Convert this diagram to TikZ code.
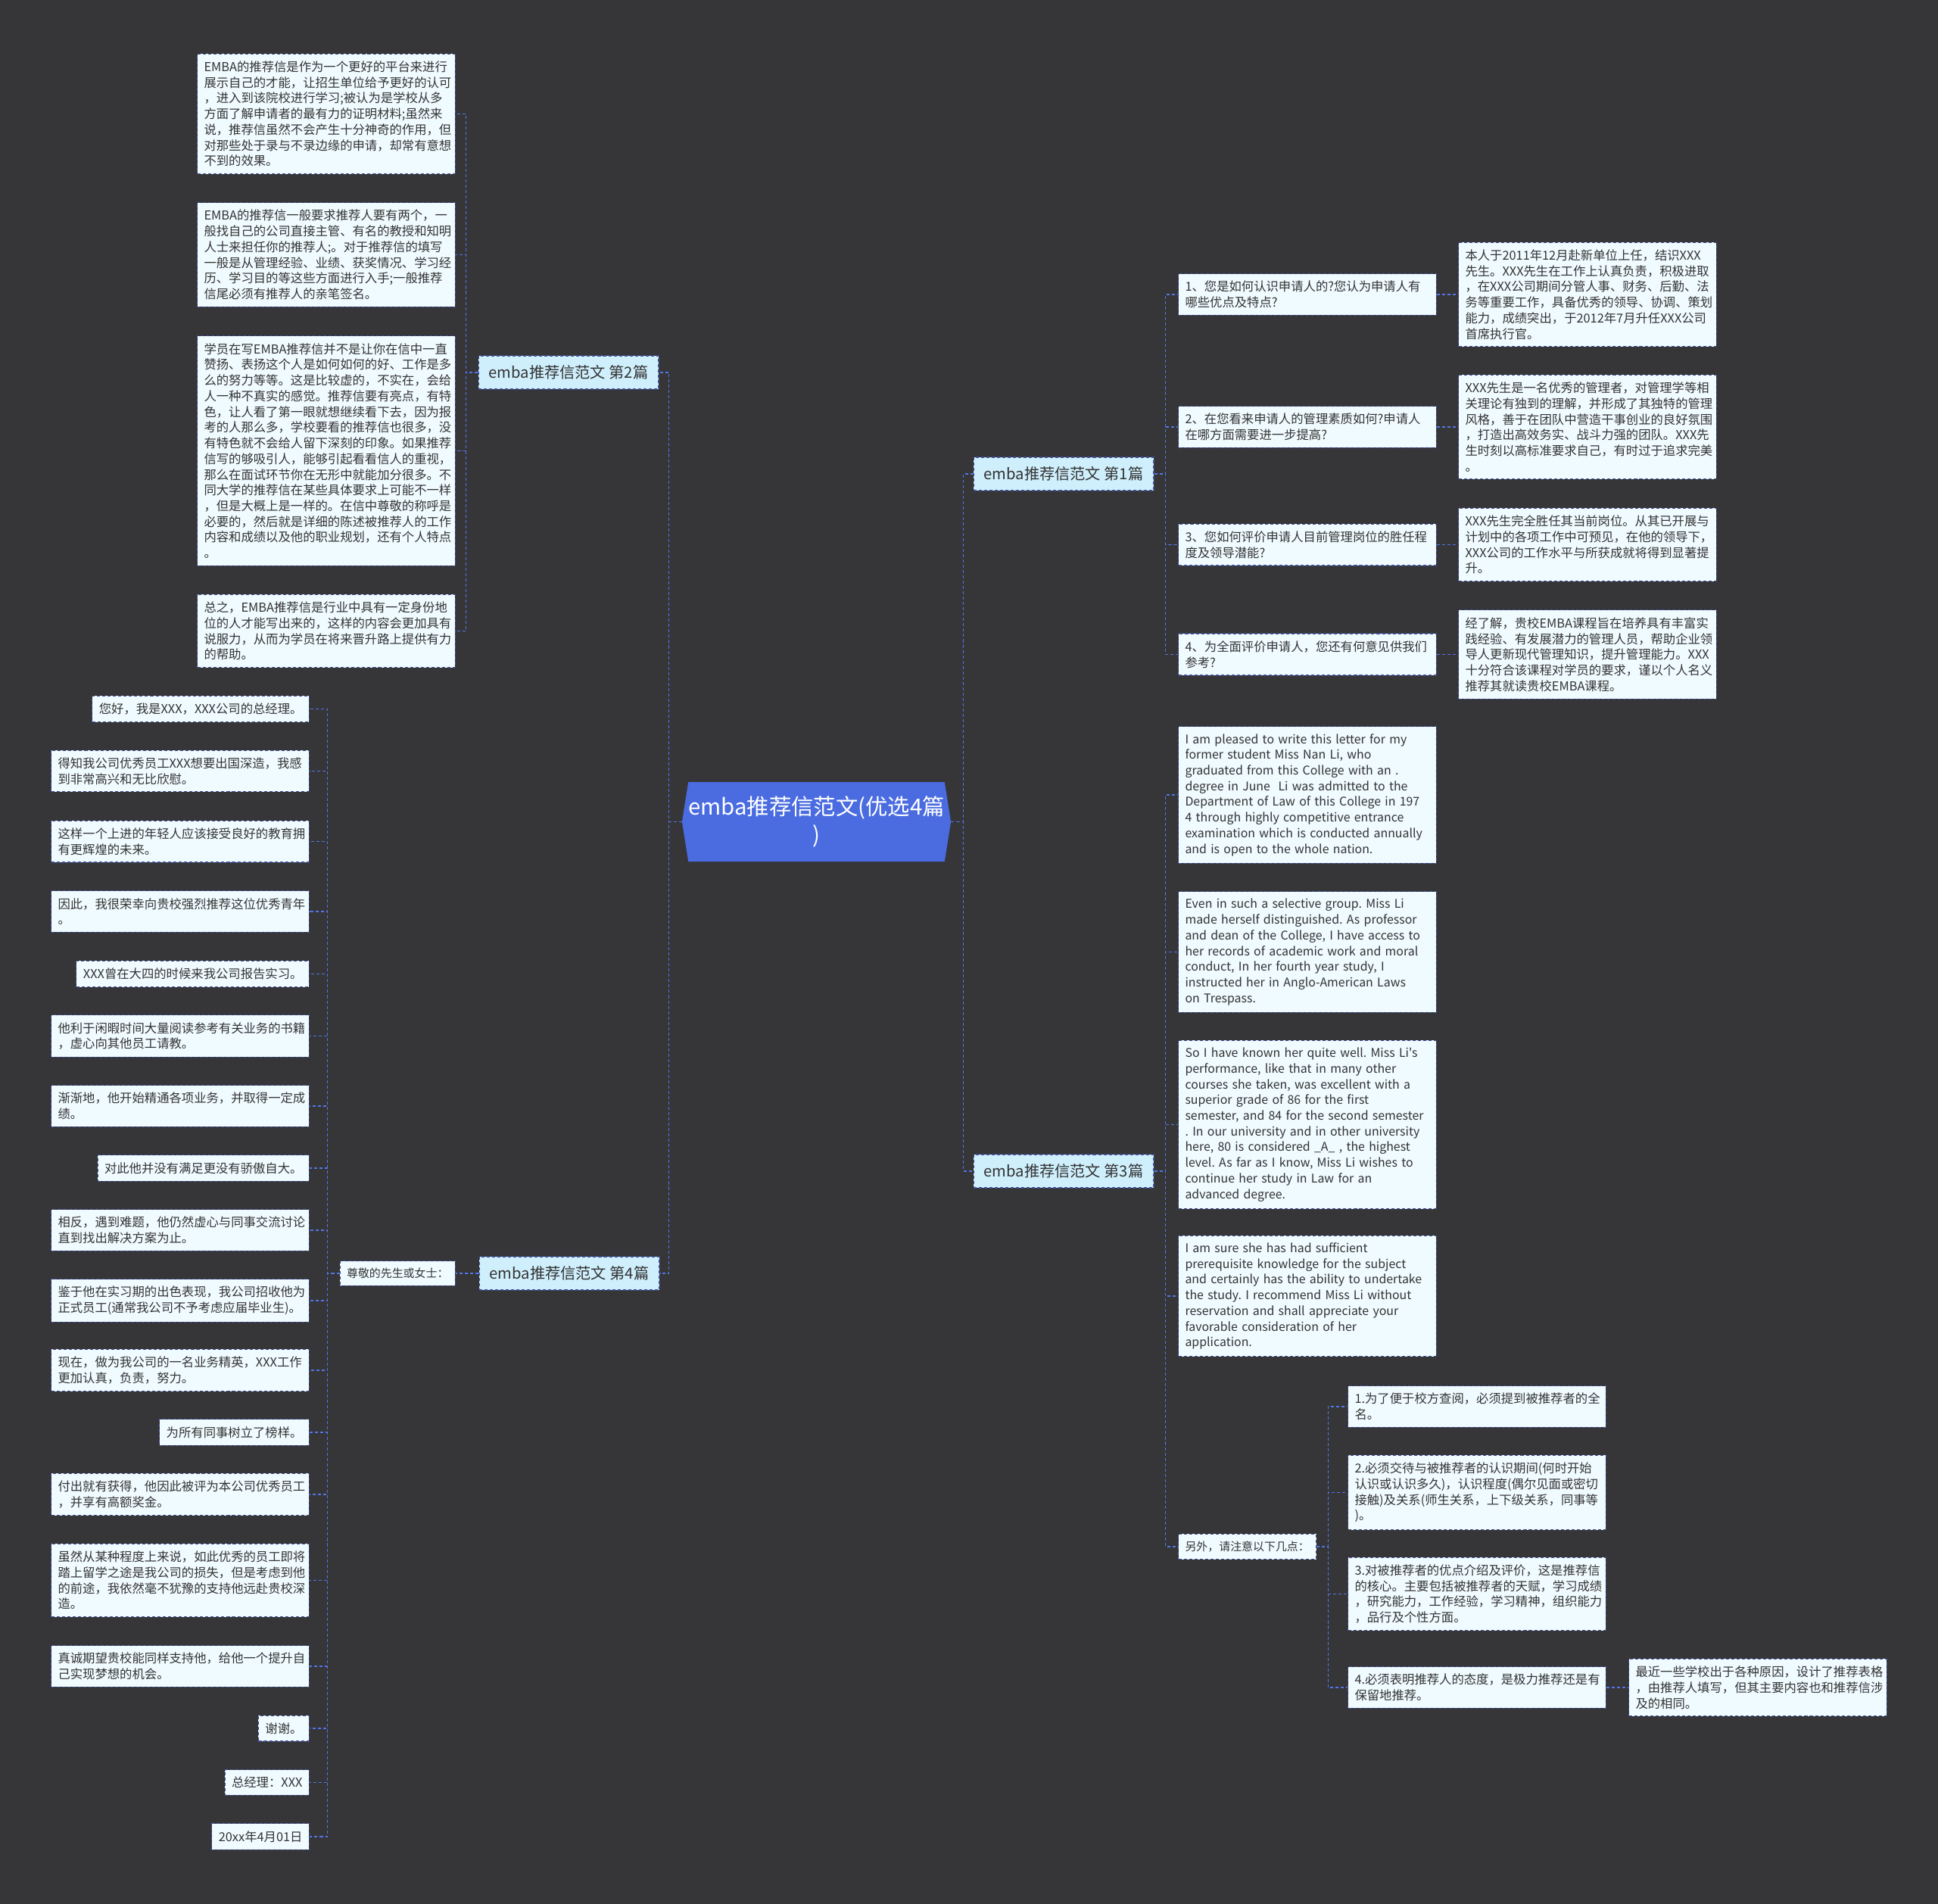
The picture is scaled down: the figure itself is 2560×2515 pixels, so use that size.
\documentclass[tikz,border=0pt]{standalone}
\usepackage{fontspec}
\setmainfont{Noto Sans CJK SC}[Ligatures=TeXOff]
\usetikzlibrary{shapes.symbols}
\definecolor{bgcol}{HTML}{363538}
\definecolor{rootcol}{HTML}{4A6CE0}
\definecolor{catcol}{HTML}{CFEFFC}
\definecolor{leafcol}{HTML}{F0FBFF}
\definecolor{edgecol}{HTML}{3F4F95}
\definecolor{linkcol}{HTML}{5276E6}
\definecolor{txtcol}{HTML}{333333}
\tikzstyle{root} = [signal, signal to=west and east, signal pointer angle=162, fill=rootcol, text=white, font=\fontsize{16.7}{21.3}\selectfont, align=center, minimum width=7.02cm, minimum height=2.1cm, inner sep=0pt]
\tikzstyle{cat} = [rectangle, draw=edgecol, line width=0.6pt, dash pattern=on 2.3pt off 1.7pt, fill=catcol, text=txtcol, font=\fontsize{11.5}{14}\selectfont, minimum width=4.76cm, minimum height=0.88cm]
\tikzstyle{leaf} = [rectangle, draw=edgecol, line width=0.6pt, dash pattern=on 2.3pt off 1.7pt, fill=leafcol, text=txtcol, font=\fontsize{9.3}{11.8}\selectfont\frenchspacing, inner xsep=0.18cm, inner ysep=0.19cm, align=left]
\tikzstyle{leafw} = [leaf, text width=6.46cm]
\tikzstyle{engw} = [leafw, font=\fontsize{9.05}{11.8}\selectfont\frenchspacing]
\tikzstyle{mid} = [leaf, font=\fontsize{8.5}{11}\selectfont]
\tikzstyle{link} = [draw=linkcol, line width=0.9pt, dash pattern=on 2.3pt off 1.7pt]

\begin{document}
\begin{tikzpicture}[x=0.02cm, y=-0.02cm]
    \fill[bgcol] (0,0) rectangle (2560,2515);

    % centre and the four letters
    \node (root) [root] at (1078.5,1085.5) {emba推荐信范文(优选4篇\\)};
    \node (b2) [cat] at (751,492) {emba推荐信范文 第2篇};
    \node (b4) [cat] at (752,1682) {emba推荐信范文 第4篇};
    \node (b1) [cat] at (1405,626) {emba推荐信范文 第1篇};
    \node (b3) [cat] at (1405,1547) {emba推荐信范文 第3篇};

    % letter 2
    \node (a1) [leafw, anchor=east] at (602,150.5) {EMBA的推荐信是作为一个更好的平台来进行\\展示自己的才能，让招生单位给予更好的认可\\，进入到该院校进行学习;被认为是学校从多\\方面了解申请者的最有力的证明材料;虽然来\\说，推荐信虽然不会产生十分神奇的作用，但\\对那些处于录与不录边缘的申请，却常有意想\\不到的效果。};
    \node (a2) [leafw, anchor=east] at (602,336.5) {EMBA的推荐信一般要求推荐人要有两个，一\\般找自己的公司直接主管、有名的教授和知明\\人士来担任你的推荐人;。对于推荐信的填写\\一般是从管理经验、业绩、获奖情况、学习经\\历、学习目的等这些方面进行入手;一般推荐\\信尾必须有推荐人的亲笔签名。};
    \node (a3) [leafw, anchor=east] at (602,595.5) {学员在写EMBA推荐信并不是让你在信中一直\\赞扬、表扬这个人是如何如何的好、工作是多\\么的努力等等。这是比较虚的，不实在，会给\\人一种不真实的感觉。推荐信要有亮点，有特\\色，让人看了第一眼就想继续看下去，因为报\\考的人那么多，学校要看的推荐信也很多，没\\有特色就不会给人留下深刻的印象。如果推荐\\信写的够吸引人，能够引起看看信人的重视，\\那么在面试环节你在无形中就能加分很多。不\\同大学的推荐信在某些具体要求上可能不一样\\，但是大概上是一样的。在信中尊敬的称呼是\\必要的，然后就是详细的陈述被推荐人的工作\\内容和成绩以及他的职业规划，还有个人特点\\。};
    \node (a4) [leafw, anchor=east] at (602,833.5) {总之，EMBA推荐信是行业中具有一定身份地\\位的人才能写出来的，这样的内容会更加具有\\说服力，从而为学员在将来晋升路上提供有力\\的帮助。};

    % letter 4
    \node (dear) [mid, anchor=east] at (602,1682) {尊敬的先生或女士：};
    \node (l1) [leaf, anchor=east] at (409,936.5) {您好，我是XXX，XXX公司的总经理。};
    \node (l2) [leafw, anchor=east] at (409,1018.5) {得知我公司优秀员工XXX想要出国深造，我感\\到非常高兴和无比欣慰。};
    \node (l3) [leafw, anchor=east] at (409,1111.5) {这样一个上进的年轻人应该接受良好的教育拥\\有更辉煌的未来。};
    \node (l4) [leafw, anchor=east] at (409,1204) {因此，我很荣幸向贵校强烈推荐这位优秀青年\\。};
    \node (l5) [leaf, anchor=east] at (409,1286.5) {XXX曾在大四的时候来我公司报告实习。};
    \node (l6) [leafw, anchor=east] at (409,1368.5) {他利于闲暇时间大量阅读参考有关业务的书籍\\，虚心向其他员工请教。};
    \node (l7) [leafw, anchor=east] at (409,1461) {渐渐地，他开始精通各项业务，并取得一定成\\绩。};
    \node (l8) [leaf, anchor=east] at (409,1543) {对此他并没有满足更没有骄傲自大。};
    \node (l9) [leafw, anchor=east] at (409,1625) {相反，遇到难题，他仍然虚心与同事交流讨论\\直到找出解决方案为止。};
    \node (l10) [leafw, anchor=east] at (409,1718) {鉴于他在实习期的出色表现，我公司招收他为\\正式员工(通常我公司不予考虑应届毕业生)。};
    \node (l11) [leafw, anchor=east] at (409,1810) {现在，做为我公司的一名业务精英，XXX工作\\更加认真，负责，努力。};
    \node (l12) [leaf, anchor=east] at (409,1892) {为所有同事树立了榜样。};
    \node (l13) [leafw, anchor=east] at (409,1974) {付出就有获得，他因此被评为本公司优秀员工\\，并享有高额奖金。};
    \node (l14) [leafw, anchor=east] at (409,2087.5) {虽然从某种程度上来说，如此优秀的员工即将\\踏上留学之途是我公司的损失，但是考虑到他\\的前途，我依然毫不犹豫的支持他远赴贵校深\\造。};
    \node (l15) [leafw, anchor=east] at (409,2201) {真诚期望贵校能同样支持他，给他一个提升自\\己实现梦想的机会。};
    \node (l16) [leaf, anchor=east] at (409,2283) {谢谢。};
    \node (l17) [leaf, anchor=east] at (409,2354.5) {总经理：XXX};
    \node (l18) [leaf, anchor=east] at (409,2426) {20xx年4月01日};

    % letter 1
    \node (q1) [leafw, anchor=west] at (1556,389) {1、您是如何认识申请人的?您认为申请人有\\哪些优点及特点?};
    \node (q2) [leafw, anchor=west] at (1556,564) {2、在您看来申请人的管理素质如何?申请人\\在哪方面需要进一步提高?};
    \node (q3) [leafw, anchor=west] at (1556,719.5) {3、您如何评价申请人目前管理岗位的胜任程\\度及领导潜能?};
    \node (q4) [leafw, anchor=west] at (1556,864.5) {4、为全面评价申请人，您还有何意见供我们\\参考?};
    \node (ans1) [leafw, anchor=west] at (1926,389) {本人于2011年12月赴新单位上任，结识XXX\\先生。XXX先生在工作上认真负责，积极进取\\，在XXX公司期间分管人事、财务、后勤、法\\务等重要工作，具备优秀的领导、协调、策划\\能力，成绩突出，于2012年7月升任XXX公司\\首席执行官。};
    \node (ans2) [leafw, anchor=west] at (1926,564) {XXX先生是一名优秀的管理者，对管理学等相\\关理论有独到的理解，并形成了其独特的管理\\风格，善于在团队中营造干事创业的良好氛围\\，打造出高效务实、战斗力强的团队。XXX先\\生时刻以高标准要求自己，有时过于追求完美\\。};
    \node (ans3) [leafw, anchor=west] at (1926,719.5) {XXX先生完全胜任其当前岗位。从其已开展与\\计划中的各项工作中可预见，在他的领导下，\\XXX公司的工作水平与所获成就将得到显著提\\升。};
    \node (ans4) [leafw, anchor=west] at (1926,864.5) {经了解，贵校EMBA课程旨在培养具有丰富实\\践经验、有发展潜力的管理人员，帮助企业领\\导人更新现代管理知识，提升管理能力。XXX\\十分符合该课程对学员的要求，谨以个人名义\\推荐其就读贵校EMBA课程。};

    % letter 3
    \node (e1) [engw, anchor=west] at (1556,1050) {I am pleased to write this letter for my\\former student Miss Nan Li, who\\graduated from this College with an .\\degree in June\ \ Li was admitted to the\\Department of Law of this College in 197\\4 through highly competitive entrance\\examination which is conducted annually\\and is open to the whole nation.};
    \node (e2) [engw, anchor=west] at (1556,1257.5) {Even in such a selective group. Miss Li\\made herself distinguished. As professor\\and dean of the College, I have access to\\her records of academic work and moral\\conduct, In her fourth year study, I\\instructed her in Anglo-American Laws\\on Trespass.};
    \node (e3) [engw, anchor=west] at (1556,1485.5) {So I have known her quite well. Miss Li's\\performance, like that in many other\\courses she taken, was excellent with a\\superior grade of 86 for the first\\semester, and 84 for the second semester\\. In our university and in other university\\here, 80 is considered \_A\_ , the highest\\level. As far as I know, Miss Li wishes to\\continue her study in Law for an\\advanced degree.};
    \node (e4) [engw, anchor=west] at (1556,1712) {I am sure she has had sufficient\\prerequisite knowledge for the subject\\and certainly has the ability to undertake\\the study. I recommend Miss Li without\\reservation and shall appreciate your\\favorable consideration of her\\application.};
    \node (note) [mid, anchor=west] at (1556,2043) {另外，请注意以下几点：};
    \node (r1) [leafw, anchor=west] at (1780,1858) {1.为了便于校方查阅，必须提到被推荐者的全\\名。};
    \node (r2) [leafw, anchor=west] at (1780,1971.5) {2.必须交待与被推荐者的认识期间(何时开始\\认识或认识多久)，认识程度(偶尔见面或密切\\接触)及关系(师生关系，上下级关系，同事等\\)。};
    \node (r3) [leafw, anchor=west] at (1780,2105.5) {3.对被推荐者的优点介绍及评价，这是推荐信\\的核心。主要包括被推荐者的天赋，学习成绩\\，研究能力，工作经验，学习精神，组织能力\\，品行及个性方面。};
    \node (r4) [leafw, anchor=west] at (1780,2229) {4.必须表明推荐人的态度，是极力推荐还是有\\保留地推荐。};
    \node (r5) [leafw, anchor=west] at (2151,2229) {最近一些学校出于各种原因，设计了推荐表格\\，由推荐人填写，但其主要内容也和推荐信涉\\及的相同。};

    % connectors
    \draw [link] (root.west) -- ++(-17,0) |- (b2.east);
    \draw [link] (root.west) -- ++(-17,0) |- (b4.east);
    \draw [link] (root.east) -- ++(16,0) |- (b1.west);
    \draw [link] (root.east) -- ++(16,0) |- (b3.west);

    \draw [link] (b2.west) -- ++(-16,0) |- (a1.east);
    \draw [link] (b2.west) -- ++(-16,0) |- (a2.east);
    \draw [link] (b2.west) -- ++(-16,0) |- (a3.east);
    \draw [link] (b2.west) -- ++(-16,0) |- (a4.east);

    \draw [link] (b4.west) -- (dear.east);
    \draw [link] (dear.west) -- ++(-16,0) |- (l1.east);
    \draw [link] (dear.west) -- ++(-16,0) |- (l2.east);
    \draw [link] (dear.west) -- ++(-16,0) |- (l3.east);
    \draw [link] (dear.west) -- ++(-16,0) |- (l4.east);
    \draw [link] (dear.west) -- ++(-16,0) |- (l5.east);
    \draw [link] (dear.west) -- ++(-16,0) |- (l6.east);
    \draw [link] (dear.west) -- ++(-16,0) |- (l7.east);
    \draw [link] (dear.west) -- ++(-16,0) |- (l8.east);
    \draw [link] (dear.west) -- ++(-16,0) |- (l9.east);
    \draw [link] (dear.west) -- ++(-16,0) |- (l10.east);
    \draw [link] (dear.west) -- ++(-16,0) |- (l11.east);
    \draw [link] (dear.west) -- ++(-16,0) |- (l12.east);
    \draw [link] (dear.west) -- ++(-16,0) |- (l13.east);
    \draw [link] (dear.west) -- ++(-16,0) |- (l14.east);
    \draw [link] (dear.west) -- ++(-16,0) |- (l15.east);
    \draw [link] (dear.west) -- ++(-16,0) |- (l16.east);
    \draw [link] (dear.west) -- ++(-16,0) |- (l17.east);
    \draw [link] (dear.west) -- ++(-16,0) |- (l18.east);

    \draw [link] (b1.east) -- ++(15,0) |- (q1.west);
    \draw [link] (b1.east) -- ++(15,0) |- (q2.west);
    \draw [link] (b1.east) -- ++(15,0) |- (q3.west);
    \draw [link] (b1.east) -- ++(15,0) |- (q4.west);
    \draw [link] (q1.east) -- (ans1.west);
    \draw [link] (q2.east) -- (ans2.west);
    \draw [link] (q3.east) -- (ans3.west);
    \draw [link] (q4.east) -- (ans4.west);

    \draw [link] (b3.east) -- ++(15,0) |- (e1.west);
    \draw [link] (b3.east) -- ++(15,0) |- (e2.west);
    \draw [link] (b3.east) -- ++(15,0) |- (e3.west);
    \draw [link] (b3.east) -- ++(15,0) |- (e4.west);
    \draw [link] (b3.east) -- ++(15,0) |- (note.west);
    \draw [link] (note.east) -- ++(15,0) |- (r1.west);
    \draw [link] (note.east) -- ++(15,0) |- (r2.west);
    \draw [link] (note.east) -- ++(15,0) |- (r3.west);
    \draw [link] (note.east) -- ++(15,0) |- (r4.west);
    \draw [link] (r4.east) -- (r5.west);
\end{tikzpicture}
\end{document}
